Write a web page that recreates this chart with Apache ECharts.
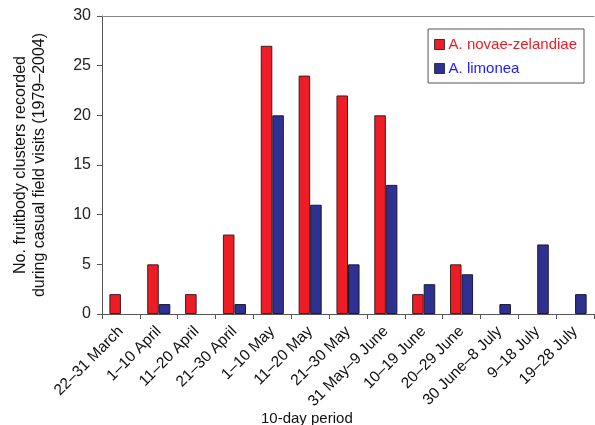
<!DOCTYPE html>
<html><head><meta charset="utf-8">
<script src="https://cdn.jsdelivr.net/npm/echarts@6/dist/echarts.min.js"></script>
<style>html,body{margin:0;padding:0;background:#fff}#c{width:595px;height:425px}</style>
</head><body><div id="c"></div>
<script>
const categories = ['22–31 March','1–10 April','11–20 April','21–30 April','1–10 May','11–20 May','21–30 May','31 May–9 June','10–19 June','20–29 June','30 June–8 July','9–18 July','19–28 July'];
const novaeZelandiae = [2,5,2,8,27,24,22,20,2,5,0,0,0];
const limonea = [0,1,0,1,20,11,5,13,3,4,1,7,2];
const yTicks = [0,5,10,15,20,25,30];

const hideZero = arr => arr.map(v => v === 0 ? {value:v, itemStyle:{borderWidth:0, opacity:0}} : v);

const chart = echarts.init(document.getElementById('c'));
const font = 'Liberation Sans, Arial, sans-serif';
chart.setOption({
  animation:false,
  textStyle:{fontFamily:font},
  grid:{left:102,right:1,top:16,bottom:111,containLabel:false,outerBoundsMode:'none'},
  legend:{
    right:11, top:29, orient:'vertical', itemWidth:10, itemHeight:10, itemGap:9,
    borderColor:'#555', borderWidth:1, padding:[8,7,7,6],
    icon:'rect', backgroundColor:'#fff',
    itemStyle:{borderColor:'#333',borderWidth:1},
    textStyle:{fontSize:15,fontFamily:font,padding:[0,0,0,-1]},
    data:[
      {name:'A. novae-zelandiae', textStyle:{color:'#ee1c25'}},
      {name:'A. limonea', textStyle:{color:'#1a1aff'}}
    ]
  },
  graphic:[{
    type:'text', left:307-46, top:411,
    style:{text:'10-day period', fontSize:15, fontFamily:font, fill:'#111'}
  }],
  xAxis:[{
    type:'category', data:categories,
    axisLine:{lineStyle:{color:'#555',width:1}},
    axisTick:{show:true,alignWithLabel:false,length:5,lineStyle:{color:'#555'}},
    axisLabel:{rotate:45,fontSize:15.5,color:'#111',margin:15,interval:0}
  },{
    type:'category', position:'top', data:categories,
    axisLine:{show:true,lineStyle:{color:'#888'}},
    axisTick:{show:false}, axisLabel:{show:false}
  }],
  yAxis:{
    type:'value', min:0, max:30, interval:5,
    axisLine:{show:true,lineStyle:{color:'#555'}},
    axisTick:{show:true,length:5,lineStyle:{color:'#555'}},
    splitLine:{show:false},
    axisLabel:{fontSize:16,color:'#222',margin:11,
      formatter:v=>yTicks.includes(v)?String(v):''},
    name:'No. fruitbody clusters recorded\nduring casual field visits (1979–2004)',
    nameLocation:'middle', nameGap:53, nameRotate:90,
    nameTextStyle:{fontSize:16,color:'#111',lineHeight:19}
  },
  series:[
    {name:'A. novae-zelandiae', type:'bar', data:hideZero(novaeZelandiae), barGap:'0%', barCategoryGap:'39%',
     itemStyle:{color:'#ee1c25',borderColor:'#3a2020',borderWidth:1}},
    {name:'A. limonea', type:'bar', data:hideZero(limonea), barGap:'0%', barCategoryGap:'39%',
     itemStyle:{color:'#2e3192',borderColor:'#1a1a30',borderWidth:1}}
  ]
});
</script></body></html>
